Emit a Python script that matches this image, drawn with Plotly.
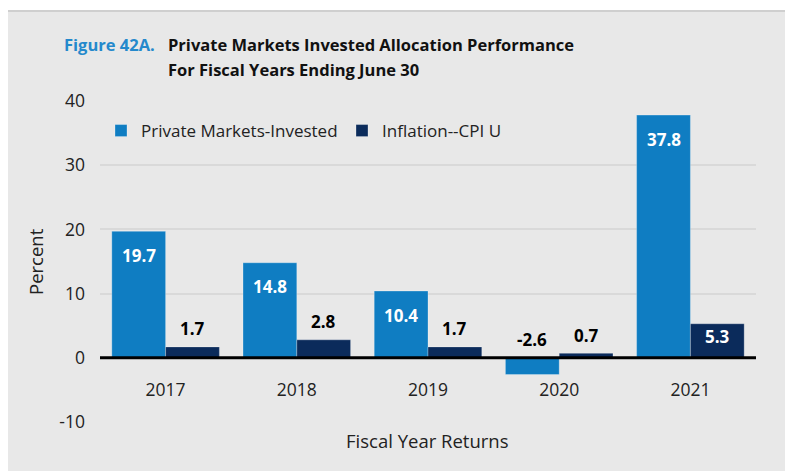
import plotly.graph_objects as go

years = ["2017", "2018", "2019", "2020", "2021"]
private_markets = [19.7, 14.8, 10.4, -2.6, 37.8]
inflation_cpi = [1.7, 2.8, 1.7, 0.7, 5.3]
series_names = ["Private Markets-Invested", "Inflation--CPI U"]
y_ticks = [-10, 0, 10, 20, 30, 40]

BLUE = "#0F7DC2"
NAVY = "#0B2B5B"
FONT = "Open Sans"

# page body has an 8px margin; figure is sized so it ends at the window edge
W, H = 793 - 8, 471 - 8
PLOT_L, PLOT_R, PLOT_T, PLOT_B = 100, 756, 101, 422   # in window pixels
ML, MR, MT, MB = PLOT_L - 8, 793 - PLOT_R, PLOT_T - 8, 471 - PLOT_B
PW, PH = PLOT_R - PLOT_L, PLOT_B - PLOT_T
YMIN, YMAX = -10, 40
PPU = PH / (YMAX - YMIN)
BARGAP = 0.18
PXCAT = PW / len(years)
OFFSET = (1 - BARGAP) / 4 * PXCAT

def px_x(px):
    return (px - PLOT_L) / PW

def px_y(py):
    return (PLOT_B - py) / PH

xpos = list(range(len(years)))

fig = go.Figure()
for name, vals, col in [(series_names[0], private_markets, BLUE),
                        (series_names[1], inflation_cpi, NAVY)]:
    fig.add_trace(go.Bar(
        x=xpos, y=vals, name=name,
        marker=dict(color=col, line=dict(color="rgba(255,255,255,0.35)", width=0.8)),
        customdata=years, hovertemplate="%{customdata}: %{y}<extra>" + name + "</extra>",
    ))

annotations = []
for k, vals in enumerate([private_markets, inflation_cpi]):
    shift = -OFFSET if k == 0 else OFFSET
    for i, v in zip(xpos, vals):
        inside = v > 4
        if inside:
            y, ys, col = v, -min(24, 0.36 * v * PPU), "white"
        else:
            y, ys, col = max(v, 0), 18, "black"
        annotations.append(dict(
            x=i, y=y, xref="x", yref="y", xshift=shift, yshift=ys,
            text=f"<b>{v:.1f}</b>", showarrow=False, yanchor="middle",
            font=dict(family=FONT, size=17, color=col),
        ))

annotations += [
    dict(x=px_x(62), y=px_y(45), xref="paper", yref="paper", xanchor="left", yanchor="middle",
         text="<b>Figure 42A.</b>", showarrow=False,
         font=dict(family=FONT, size=16.5, color="#2489CC")),
    dict(x=px_x(166), y=px_y(45), xref="paper", yref="paper", xanchor="left", yanchor="middle",
         text="<b>Private Markets Invested Allocation Performance</b>", showarrow=False,
         font=dict(family=FONT, size=16.5, color="#111111")),
    dict(x=px_x(166), y=px_y(69), xref="paper", yref="paper", xanchor="left", yanchor="middle",
         text="<b>For Fiscal Years Ending June 30</b>", showarrow=False,
         font=dict(family=FONT, size=16.5, color="#111111")),
    dict(x=px_x(427), y=px_y(440), xref="paper", yref="paper", xanchor="center", yanchor="middle",
         text="Fiscal Year Returns", showarrow=False,
         font=dict(family=FONT, size=18.5, color="#222222")),
    dict(x=px_x(36), y=px_y(262), xref="paper", yref="paper", xanchor="center", yanchor="middle",
         text="Percent", textangle=-90, showarrow=False,
         font=dict(family=FONT, size=18.5, color="#222222")),
]

shapes = [
    dict(type="rect", xref="paper", yref="paper", x0=px_x(7), x1=px_x(810),
         y0=px_y(490), y1=px_y(11), fillcolor="#E8E8E8",
         line=dict(color="#CFCFCF", width=2), layer="below"),
    dict(type="line", xref="paper", yref="y", x0=0, x1=1, y0=0, y1=0,
         line=dict(color="black", width=3), layer="above"),
]

fig.update_layout(
    width=W, height=H,
    margin=dict(l=ML, r=MR, t=MT, b=MB, autoexpand=False),
    paper_bgcolor="white", plot_bgcolor="rgba(0,0,0,0)",
    barmode="group", bargap=BARGAP, bargroupgap=0,
    font=dict(family=FONT, size=17, color="#222222"),
    showlegend=True,
    legend=dict(orientation="h", x=px_x(101), y=px_y(131), xanchor="left", yanchor="middle",
                bgcolor="rgba(0,0,0,0)", font=dict(family=FONT, size=17, color="#222222"),
                entrywidth=196, entrywidthmode="pixels", traceorder="normal"),
    annotations=annotations,
    shapes=shapes,
    xaxis=dict(range=[-0.5, len(years) - 0.5], tickvals=xpos, ticktext=years,
               anchor="free", position=px_y(357), showline=False,
               showgrid=False, zeroline=False, ticks="", ticklabelstandoff=20,
               tickfont=dict(family=FONT, size=17.5, color="#222222")),
    yaxis=dict(range=[YMIN, YMAX], tickvals=y_ticks, ticktext=[str(t) for t in y_ticks],
               showgrid=True, gridcolor="#D9D9D9",
               gridwidth=1.5, zeroline=False, showline=False, ticks="",
               ticklabelstandoff=14, tickfont=dict(family=FONT, size=17.5, color="#222222")),
)

fig.write_html("out.html")
